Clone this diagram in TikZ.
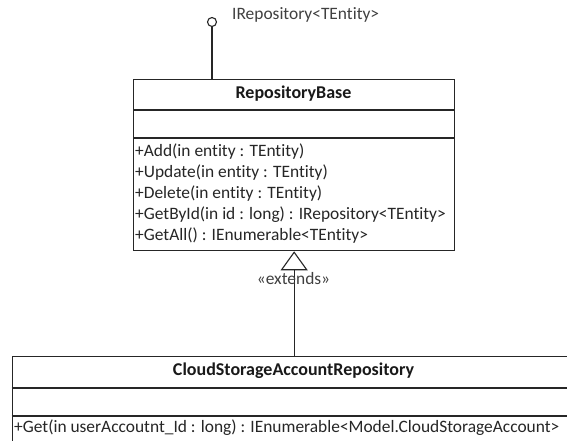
\documentclass[tikz,border=0pt]{standalone}
\usepackage{fontspec}
\setmainfont[RawFeature={-liga;-dlig}]{Carlito}
\usetikzlibrary{arrows.meta}
\begin{document}
\begin{tikzpicture}[x=1pt,y=-1pt,
  umlline/.style={draw=black!85, line width=1.3pt},
  classbox/.style={umlline, rectangle, anchor=north west, inner sep=0pt},
  member/.style={anchor=west, inner sep=0pt, font=\fontsize{17.4}{20}\selectfont, text=black!85},
  title/.style={inner sep=0pt, font=\fontsize{18}{20}\selectfont\bfseries, text=black!90},
  note/.style={inner sep=0pt, font=\fontsize{17.4}{20}\selectfont, text=black!75}]
\clip (0,0) rectangle (567,441);
\fill[white] (0,0) rectangle (567,441);

% RepositoryBase class
\node[classbox, minimum width=321pt, minimum height=171pt] (base) at (133,79) {};
\draw[umlline] (base.west |- 0,110) -- (base.east |- 0,110);
\draw[umlline] (base.west |- 0,138) -- (base.east |- 0,138);
\node[title] (basename) at (293.5,94) {RepositoryBase};
\node[member] (m1) at (135,152) {+Add(in entity : TEntity)};
\node[member] (m2) at (135,173) {+Update(in entity : TEntity)};
\node[member] (m3) at (135,194) {+Delete(in entity : TEntity)};
\node[member] (m4) at (135,215) {+GetById(in id : long) : IRepository<TEntity>};
\node[member] (m5) at (135,236) {+GetAll() : IEnumerable<TEntity>};

% provided interface (lollipop)
\node[umlline, circle, minimum size=9pt, inner sep=0pt, line width=1.1pt] (iface) at (212,22) {};
\node[note, anchor=west] (ifacename) at (232,15) {IRepository<TEntity>};
\draw[umlline] (iface.south) -- (iface.south |- base.north);

% CloudStorageAccountRepository class
\node[classbox, minimum width=563pt, minimum height=110pt] (cloud) at (11.7,356) {};
\draw[umlline] (cloud.west |- 0,388) -- (cloud.east |- 0,388);
\draw[umlline] (cloud.west |- 0,416) -- (cloud.east |- 0,416);
\node[title] (cloudname) at (293.5,371) {CloudStorageAccountRepository};
\node[member] (g1) at (14,428) {+Get(in userAccoutnt\_Id : long) : IEnumerable<Model.CloudStorageAccount>};

% generalization
\draw[umlline, -{Triangle[open, length=19pt, width=27pt, line width=1.1pt]}]
  (cloud.north -| base.south) -- (base.south);
\node[note] (ext) at (293.5,279) {«extends»};
\end{tikzpicture}
\end{document}
